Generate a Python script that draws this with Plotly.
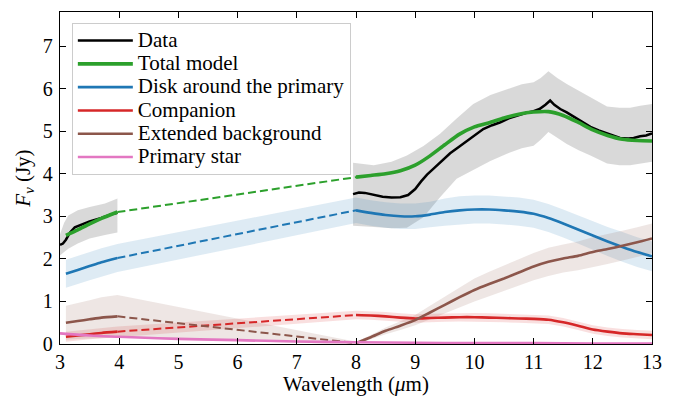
import plotly.graph_objects as go

# ---------------- data ----------------
# Observed spectrum (Jy)
data_wl_left = [3.0, 3.05, 3.1, 3.17, 3.25, 3.35, 3.5, 3.7, 3.85, 3.97]
data_fl_left = [2.33, 2.36, 2.45, 2.62, 2.74, 2.80, 2.88, 2.96, 3.04, 3.08]
data_band_wl_left = [3.0, 3.07, 3.14, 3.3, 3.5, 3.76, 3.97]
data_band_hi_left = [2.58, 2.85, 3.02, 3.14, 3.22, 3.30, 3.42]
data_band_lo_left = [2.08, 2.16, 2.24, 2.36, 2.48, 2.56, 2.62]

data_wl_right = [7.95, 8.05, 8.15, 8.3, 8.45, 8.6, 8.75, 8.88, 9.0, 9.1, 9.2, 9.31,
                 9.45, 9.59, 9.73, 9.87, 10.0, 10.15, 10.3, 10.44, 10.58, 10.72,
                 10.85, 11.0, 11.1, 11.2, 11.28, 11.35, 11.45, 11.56, 11.68, 11.8,
                 11.96, 12.1, 12.24, 12.35, 12.46, 12.6, 12.69, 12.8, 12.9, 13.0]
data_fl_right = [3.52, 3.56, 3.55, 3.50, 3.46, 3.44, 3.45, 3.50, 3.64, 3.82, 3.98, 4.12,
                 4.30, 4.48, 4.62, 4.76, 4.90, 5.05, 5.14, 5.21, 5.30, 5.37,
                 5.42, 5.47, 5.52, 5.62, 5.72, 5.62, 5.52, 5.44, 5.34, 5.24,
                 5.10, 5.02, 4.95, 4.88, 4.84, 4.83, 4.84, 4.88, 4.90, 4.95]
data_band_wl_right = [7.95, 8.3, 8.6, 8.86, 9.14, 9.42, 9.7, 9.98, 10.27, 10.55, 10.8,
                      11.0, 11.12, 11.25, 11.4, 11.56, 11.76, 11.96, 12.24, 12.45,
                      12.63, 12.8, 13.0]
data_band_hi_right = [4.26, 4.20, 4.28, 4.43, 4.65, 4.94, 5.30, 5.64, 5.85, 5.99, 6.10,
                      6.15, 6.25, 6.41, 6.25, 6.11, 5.96, 5.80, 5.58, 5.55,
                      5.55, 5.60, 5.64]
data_band_lo_right = [2.78, 2.75, 2.72, 2.73, 2.98, 3.45, 3.88, 4.08, 4.30, 4.47, 4.60,
                      4.66, 4.80, 4.98, 4.85, 4.70, 4.55, 4.43, 4.24, 4.20,
                      4.20, 4.24, 4.28]

# Model grid
model_wl_left = [3.1, 3.3, 3.5, 3.7, 3.97]
model_wl_right = [8.0, 8.25, 8.5, 8.75, 9.0, 9.25, 9.5, 9.75, 10.0, 10.25, 10.5,
                  10.75, 11.0, 11.25, 11.5, 11.75, 12.0, 12.25, 12.5, 12.75, 13.0]

total_left = [2.55, 2.68, 2.82, 2.95, 3.10]
total_right = [3.92, 3.96, 4.00, 4.07, 4.20, 4.42, 4.68, 4.93, 5.10, 5.20, 5.31,
               5.40, 5.45, 5.46, 5.37, 5.21, 5.03, 4.90, 4.81, 4.78, 4.77]

disk_left = [1.65, 1.74, 1.83, 1.92, 2.02]
disk_err_left = [0.33, 0.33, 0.33, 0.33, 0.33]
disk_right = [3.14, 3.08, 3.03, 3.00, 3.00, 3.04, 3.10, 3.14, 3.16, 3.16, 3.14,
              3.11, 3.06, 2.96, 2.83, 2.69, 2.55, 2.41, 2.28, 2.16, 2.06]
disk_err_right = [0.30, 0.30, 0.30, 0.30, 0.30, 0.30, 0.32, 0.33, 0.33, 0.33, 0.33,
                  0.33, 0.33, 0.33, 0.33, 0.33, 0.33, 0.34, 0.35, 0.35, 0.35]

comp_left = [0.17, 0.20, 0.23, 0.26, 0.29]
comp_err_left = [0.12, 0.12, 0.12, 0.12, 0.12]
comp_right = [0.68, 0.67, 0.65, 0.62, 0.60, 0.61, 0.62, 0.63, 0.63, 0.62, 0.61,
              0.60, 0.59, 0.57, 0.51, 0.43, 0.34, 0.29, 0.25, 0.23, 0.21]
comp_err_right = [0.10, 0.10, 0.10, 0.10, 0.10, 0.10, 0.10, 0.10, 0.10, 0.10, 0.10,
                  0.10, 0.10, 0.10, 0.10, 0.10, 0.10, 0.10, 0.10, 0.10, 0.10]

bkg_left = [0.50, 0.54, 0.58, 0.62, 0.65]
bkg_err_left = [0.40, 0.42, 0.45, 0.48, 0.50]
bkg_right = [0.02, 0.16, 0.31, 0.43, 0.56, 0.74, 0.92, 1.10, 1.27, 1.41, 1.54,
             1.68, 1.82, 1.93, 2.01, 2.07, 2.16, 2.23, 2.31, 2.39, 2.48]
bkg_err_right = [0.03, 0.05, 0.08, 0.10, 0.12, 0.16, 0.20, 0.24, 0.27, 0.29, 0.30,
                 0.31, 0.32, 0.33, 0.33, 0.34, 0.35, 0.35, 0.35, 0.35, 0.35]

star_wl = [3.0, 3.5, 4.0, 5.0, 6.0, 7.0, 8.0, 9.0, 10.0, 11.0, 12.0, 13.0]
star_fl = [0.25, 0.20, 0.17, 0.12, 0.09, 0.06, 0.04, 0.03, 0.02, 0.02, 0.01, 0.01]

legend_labels = ["Data", "Total model", "Disk around the primary", "Companion",
                 "Extended background", "Primary star"]

# ---------------- styling ----------------
FONT = "Liberation Serif"
C_DATA = "black"
C_TOT = "#2ca02c"
C_DISK = "#1f77b4"
C_COMP = "#d62728"
C_BKG = "#8c564b"
C_STAR = "#e377c2"


def lab(t):
    return f"<span style='font-size:21px'>{t}</span>"


def rgba(hexc, a):
    h = hexc.lstrip("#")
    r, g, b = int(h[0:2], 16), int(h[2:4], 16), int(h[4:6], 16)
    return f"rgba({r},{g},{b},{a})"


fig = go.Figure()


def band(x, lo, hi, color):
    fig.add_trace(go.Scatter(
        x=list(x) + list(x)[::-1], y=list(hi) + list(lo)[::-1],
        fill="toself", fillcolor=color, line=dict(width=0),
        mode="lines", showlegend=False, hoverinfo="skip"))


# data bands
band(data_band_wl_left, data_band_lo_left, data_band_hi_left, "rgba(0,0,0,0.15)")
band(data_band_wl_right, data_band_lo_right, data_band_hi_right, "rgba(0,0,0,0.15)")

# component bands (continuous across gap)
for vals_l, err_l, vals_r, err_r, col in [
    (disk_left, disk_err_left, disk_right, disk_err_right, C_DISK),
    (comp_left, comp_err_left, comp_right, comp_err_right, C_COMP),
    (bkg_left, bkg_err_left, bkg_right, bkg_err_right, C_BKG),
]:
    xs = model_wl_left + model_wl_right
    vs = vals_l + vals_r
    es = err_l + err_r
    band(xs, [v - e for v, e in zip(vs, es)], [v + e for v, e in zip(vs, es)], rgba(col, 0.15))

# data line
fig.add_trace(go.Scatter(x=data_wl_left, y=data_fl_left, mode="lines",
                         line=dict(color=C_DATA, width=2.5), name=lab(legend_labels[0]),
                         legendrank=1, legendgroup="data"))
fig.add_trace(go.Scatter(x=data_wl_right, y=data_fl_right, mode="lines",
                         line=dict(color=C_DATA, width=2.5), showlegend=False,
                         legendgroup="data"))


def model(vals_l, vals_r, col, name, rank, width):
    fig.add_trace(go.Scatter(x=model_wl_left, y=vals_l, mode="lines",
                             line=dict(color=col, width=width, shape="spline", smoothing=0.6),
                             name=lab(name), legendrank=rank, legendgroup=name))
    fig.add_trace(go.Scatter(x=[model_wl_left[-1], model_wl_right[0]],
                             y=[vals_l[-1], vals_r[0]], mode="lines",
                             line=dict(color=col, width=2, dash="8px,4px"),
                             showlegend=False, legendgroup=name))
    fig.add_trace(go.Scatter(x=model_wl_right, y=vals_r, mode="lines",
                             line=dict(color=col, width=width, shape="spline", smoothing=0.6),
                             showlegend=False, legendgroup=name))


model(disk_left, disk_right, C_DISK, legend_labels[2], 3, 2.6)
model(comp_left, comp_right, C_COMP, legend_labels[3], 4, 2.6)
model(bkg_left, bkg_right, C_BKG, legend_labels[4], 5, 2.6)
fig.add_trace(go.Scatter(x=star_wl, y=star_fl, mode="lines",
                         line=dict(color=C_STAR, width=2.6, shape="spline"),
                         name=lab(legend_labels[5]), legendrank=6))
model(total_left, total_right, C_TOT, legend_labels[1], 2, 3.6)

axis_common = dict(
    showline=True, linecolor="black", linewidth=1.3, mirror="allticks",
    ticks="inside", ticklen=6, tickwidth=1.2, tickcolor="black",
    showgrid=False, zeroline=False, automargin=False,
    tickfont=dict(family=FONT, size=20, color="black"),
)

fig.update_layout(
    width=674, height=396,
    margin=dict(l=60, r=22, t=12, b=52),
    paper_bgcolor="white", plot_bgcolor="white",
    font=dict(family=FONT, size=20, color="black"),
    xaxis=dict(range=[3, 13], dtick=1, tick0=3, ticklabelstandoff=0,
               title=dict(text="Wavelength (<i>μ</i>m)", standoff=10,
                          font=dict(family=FONT, size=21)),
               **axis_common),
    yaxis=dict(range=[0, 7.8], dtick=1, tick0=0, ticklabelstandoff=2,
               title=dict(text="<i>F</i><sub><i>ν</i></sub> (Jy)", standoff=6,
                          font=dict(family=FONT, size=21)),
               **axis_common),
    legend=dict(x=0.02, y=0.967, xanchor="left", yanchor="top",
                bgcolor="rgba(255,255,255,0.8)", bordercolor="#cccccc", borderwidth=1,
                font=dict(family=FONT, size=15.6, color="black"),
                tracegroupgap=0, itemwidth=55),
    showlegend=True,
)

fig.write_html("out.html")
